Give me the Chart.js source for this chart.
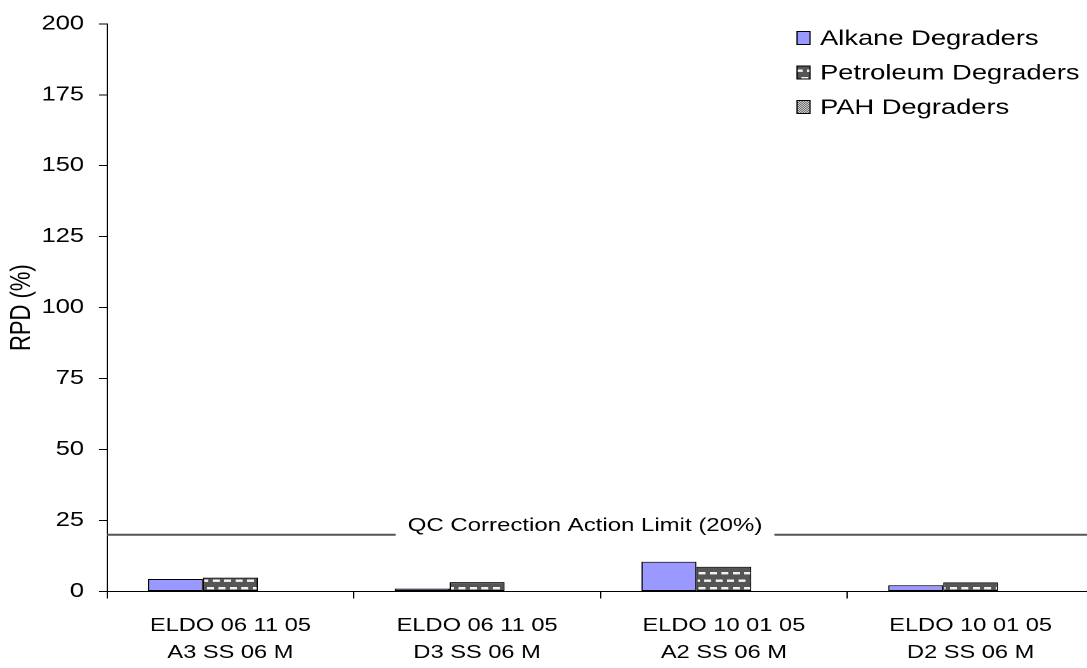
<!DOCTYPE html>
<html>
<head>
<meta charset="utf-8">
<script src="https://cdn.jsdelivr.net/npm/chart.js@4/dist/chart.umd.min.js"></script>
<style>
  html, body { margin: 0; padding: 0; background: #fff; overflow: hidden; }
  /* the chart is laid out in a narrower box and widened horizontally */
  #wrap { width: 866px; height: 668px; transform: scaleX(1.27); transform-origin: 0 0; }
</style>
</head>
<body>
<div id="wrap"><canvas id="chart"></canvas></div>
<script>
// ---- data ----
const categories = [
  ['ELDO 06 11 05', 'A3 SS 06 M'],
  ['ELDO 06 11 05', 'D3 SS 06 M'],
  ['ELDO 10 01 05', 'A2 SS 06 M'],
  ['ELDO 10 01 05', 'D2 SS 06 M']
];
const seriesNames = ['Alkane Degraders', 'Petroleum Degraders', 'PAH Degraders'];
const alkaneRPD = [4.4, 1.0, 10.5, 2.2];
const petroleumRPD = [4.9, 3.3, 8.7, 3.2];
const pahRPD = [null, null, null, null];
const yMin = 0, yMax = 200, yStep = 25;
const qcLimit = 20;
const qcLabel = 'QC Correction Action Limit (20%)';
const yTitle = 'RPD (%)';

const FONT = '"Liberation Sans", Arial, Helvetica, sans-serif';

// ---- fill patterns ----
function makePattern(w, h, paint) {
  const r = 4;
  const c = document.createElement('canvas');
  c.width = w * r; c.height = h * r;
  const g = c.getContext('2d');
  g.scale(r, r);
  paint(g);
  const p = g.createPattern(c, 'repeat');
  p.setTransform(new DOMMatrix().scale(1 / r));
  return p;
}
const dashFill = makePattern(18, 15, g => {
  g.fillStyle = '#555555'; g.fillRect(0, 0, 18, 15);
  g.fillStyle = '#f2f2f2';
  g.fillRect(1, 2, 5.5, 2.4); g.fillRect(10, 2, 5.5, 2.4);
  g.fillRect(5.5, 9.5, 5.5, 2.4); g.fillRect(14.5, 9.5, 5.5, 2.4); g.fillRect(-3.5, 9.5, 5.5, 2.4);
});
const checkFill = makePattern(2, 2, g => {
  g.fillStyle = '#cfcfcf'; g.fillRect(0, 0, 2, 2);
  g.fillStyle = '#6e6e6e'; g.fillRect(0, 0, 1, 1); g.fillRect(1, 1, 1, 1);
});

// ---- QC limit line with its inline label ----
const qcLinePlugin = {
  id: 'qcLine',
  afterDatasetsDraw(chart, args, o) {
    const { ctx, chartArea: a, scales: { y } } = chart;
    const py = y.getPixelForValue(o.value);
    ctx.save();
    ctx.font = '18.9px ' + FONT;
    const tw = ctx.measureText(o.label).width;
    const cx = a.left + (a.right - a.left) * o.anchor;
    ctx.strokeStyle = '#555555';
    ctx.lineWidth = 2;
    ctx.beginPath();
    ctx.moveTo(a.left, py); ctx.lineTo(cx - tw / 2 - o.gap, py);
    ctx.moveTo(cx + tw / 2 + o.gap, py); ctx.lineTo(a.right, py);
    ctx.stroke();
    ctx.fillStyle = '#000';
    ctx.textAlign = 'center';
    ctx.textBaseline = 'alphabetic';
    ctx.fillText(o.label, cx, py - 3.5);
    ctx.restore();
  }
};

// ---- legend block in the upper right of the plot ----
const legendBlockPlugin = {
  id: 'legendBlock',
  afterDraw(chart, args, o) {
    const ctx = chart.ctx;
    ctx.save();
    ctx.font = o.fontSize + 'px ' + FONT;
    ctx.textBaseline = 'middle';
    ctx.textAlign = 'left';
    chart.data.datasets.forEach((ds, i) => {
      const cy = o.top + i * o.rowGap;
      ctx.fillStyle = ds.backgroundColor;
      ctx.fillRect(o.boxX, cy - o.boxH / 2, o.boxW, o.boxH);
      ctx.strokeStyle = '#000';
      ctx.lineWidth = 1;
      ctx.strokeRect(o.boxX, cy - o.boxH / 2, o.boxW, o.boxH);
      ctx.fillStyle = '#000';
      ctx.fillText(ds.label, o.textX, cy + 1);
    });
    ctx.restore();
  }
};

new Chart(document.getElementById('chart'), {
  type: 'bar',
  data: {
    labels: categories,
    datasets: [
      { label: seriesNames[0], data: alkaneRPD, backgroundColor: '#9999ff' },
      { label: seriesNames[1], data: petroleumRPD, backgroundColor: dashFill },
      { label: seriesNames[2], data: pahRPD, backgroundColor: checkFill }
    ]
  },
  options: {
    responsive: true,
    maintainAspectRatio: false,
    animation: false,
    devicePixelRatio: 2,
    layout: { padding: { top: 19.5, right: 4.6, bottom: 0, left: 0 } },
    datasets: {
      bar: {
        borderColor: '#000',
        borderWidth: 1,
        borderSkipped: false,
        categoryPercentage: 0.668,
        barPercentage: 1.0
      }
    },
    scales: {
      x: {
        ticks: {
          color: '#000',
          font: { family: FONT, size: 18.6, lineHeight: 1.45 },
          padding: 14,
          maxRotation: 0,
          autoSkip: false
        },
        grid: { offset: true, drawOnChartArea: false, drawTicks: true, tickLength: 7, color: '#000', lineWidth: 1 },
        border: { display: true, color: '#000', width: 1 },
        afterFit(s) { s.height = 76.5; }
      },
      y: {
        min: yMin,
        max: yMax,
        ticks: {
          stepSize: yStep,
          color: '#000',
          font: { family: FONT, size: 20 },
          padding: 11.8
        },
        grid: { drawOnChartArea: false, drawTicks: true, tickLength: 6.3, color: '#000', lineWidth: 1 },
        border: { display: true, color: '#000', width: 1 },
        title: {
          display: true,
          text: yTitle,
          color: '#000',
          font: { family: FONT, size: 22 },
          padding: { top: 4, bottom: 0 }
        },
        afterFit(s) { s.width = 84.25; }
      }
    },
    plugins: {
      legend: { display: false },
      tooltip: { enabled: false },
      qcLine: { value: qcLimit, label: qcLabel, anchor: 0.4843, gap: 9.5 },
      legendBlock: { boxX: 627.6, boxW: 10.2, boxH: 13, textX: 645.7, top: 38, rowGap: 34.5, fontSize: 21.5 }
    }
  },
  plugins: [qcLinePlugin, legendBlockPlugin]
});
</script>
</body>
</html>
